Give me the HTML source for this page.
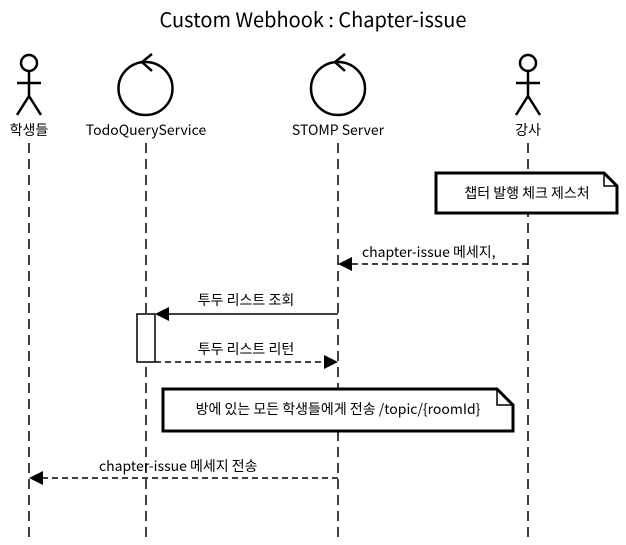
<!DOCTYPE html>
<html><head><meta charset="utf-8"><style>
html,body{margin:0;padding:0;background:#fff;}
svg text{font-family:"Noto Sans CJK KR","Liberation Sans",sans-serif;fill:#000;}
</style></head><body>
<svg width="626" height="540" xmlns="http://www.w3.org/2000/svg">
<text x="313" y="27" font-size="20" text-anchor="middle">Custom Webhook : Chapter-issue</text>
<g stroke="#000" stroke-width="1.5" fill="none">
<line x1="29" y1="143" x2="29" y2="540" stroke-dasharray="10,6"/>
<line x1="146" y1="143" x2="146" y2="540" stroke-dasharray="10,6"/>
<line x1="338" y1="143" x2="338" y2="540" stroke-dasharray="10,6"/>
<line x1="528" y1="143" x2="528" y2="540" stroke-dasharray="10,6"/>
</g>
<g stroke="#000" stroke-width="2.5" fill="none">
<circle cx="29" cy="63" r="8"/>
<line x1="29" y1="71" x2="29" y2="96"/><line x1="17" y1="83" x2="41" y2="83"/>
<line x1="29" y1="96" x2="17" y2="115"/><line x1="29" y1="96" x2="41" y2="115"/>
<circle cx="528" cy="63" r="8"/>
<line x1="528" y1="71" x2="528" y2="96"/><line x1="516" y1="83" x2="540" y2="83"/>
<line x1="528" y1="96" x2="516" y2="115"/><line x1="528" y1="96" x2="540" y2="115"/>
<ellipse cx="145.5" cy="88.5" rx="27" ry="26.5"/>
<polyline points="152,54 142,62 152,71"/>
<ellipse cx="338" cy="88.5" rx="27" ry="26.5"/>
<polyline points="345,54 335,62 345,71"/>
</g>
<g font-size="14" text-anchor="middle">
<text x="29" y="135">학생들</text>
<text x="146" y="135">TodoQueryService</text>
<text x="338" y="135">STOMP Server</text>
<text x="528" y="135">강사</text>
</g>
<path d="M436,173 H604 L617,186 V213 H436 Z" fill="#fff" stroke="#000" stroke-width="3"/>
<path d="M604,173 V186 H617" fill="none" stroke="#000" stroke-width="1.5"/>
<text x="527" y="198" font-size="14" text-anchor="middle">챕터 발행 체크 제스처</text>
<line x1="528" y1="264" x2="350" y2="264" stroke="#000" stroke-width="1.5" stroke-dasharray="6,4"/>
<polygon points="338,264 352,257 352,271" fill="#000"/>
<text x="362" y="257" font-size="14">chapter-issue 메세지,</text>
<rect x="137" y="314" width="18" height="48" fill="#fff" stroke="#000" stroke-width="1.5"/>
<line x1="338" y1="314" x2="168" y2="314" stroke="#000" stroke-width="1.5"/>
<polygon points="155,314 169,307 169,321" fill="#000"/>
<text x="246" y="305" font-size="14" text-anchor="middle">투두 리스트 조회</text>
<line x1="155" y1="362" x2="325" y2="362" stroke="#000" stroke-width="1.5" stroke-dasharray="6,4"/>
<polygon points="338,362 324,355 324,369" fill="#000"/>
<text x="246" y="354" font-size="14" text-anchor="middle">투두 리스트 리턴</text>
<path d="M163,389 H497 L513,405 V431 H163 Z" fill="#fff" stroke="#000" stroke-width="3"/>
<path d="M497,389 V405 H513" fill="none" stroke="#000" stroke-width="1.5"/>
<text x="338" y="414" font-size="14" text-anchor="middle">방에 있는 모든 학생들에게 전송 /topic/{roomId}</text>
<line x1="338" y1="478" x2="42" y2="478" stroke="#000" stroke-width="1.5" stroke-dasharray="6,4"/>
<polygon points="29,478 43,471 43,485" fill="#000"/>
<text x="99" y="471" font-size="14">chapter-issue  메세지 전송</text>
</svg>
</body></html>
